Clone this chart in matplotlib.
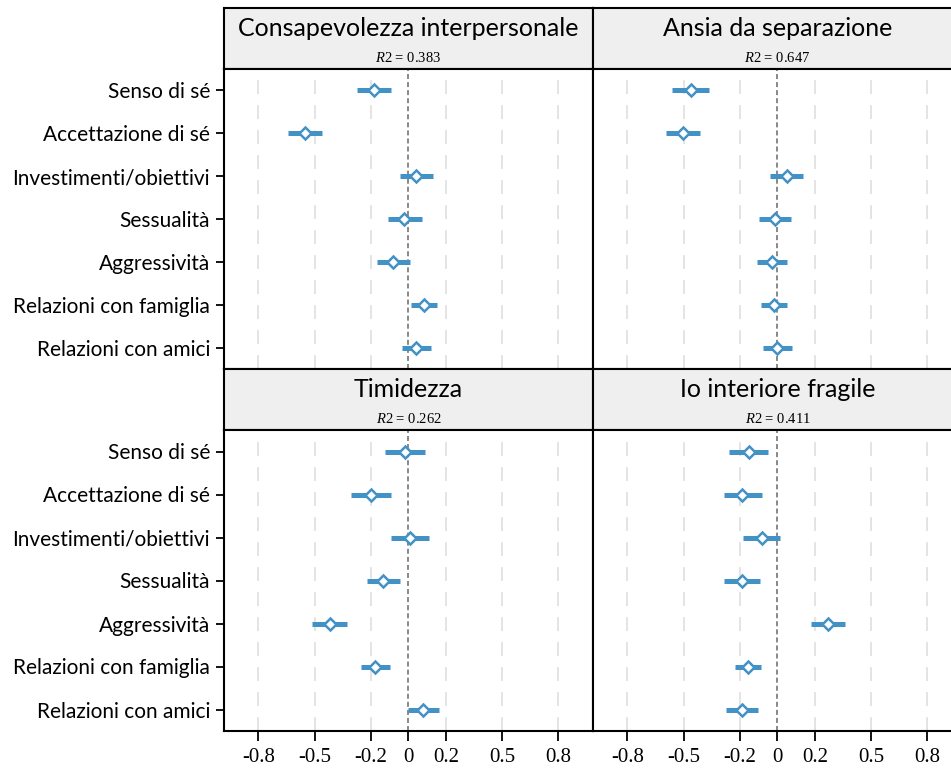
import matplotlib
matplotlib.use("Agg")
import matplotlib.pyplot as plt
import numpy as np

plt.rcParams['lines.scale_dashes'] = False
plt.rcParams['mathtext.fontset'] = 'custom'
plt.rcParams['mathtext.rm'] = 'Liberation Serif'
plt.rcParams['mathtext.it'] = 'Liberation Serif:italic'

# predictors, top to bottom
categories = ["Senso di sé", "Accettazione di sé", "Investimenti/obiettivi",
              "Sessualità", "Aggressività", "Relazioni con famiglia",
              "Relazioni con amici"]

titles = ["Consapevolezza interpersonale", "Ansia da separazione",
          "Timidezza", "Io interiore fragile"]
r2 = [0.383, 0.647, 0.262, 0.411]

# coefficient estimates and interval bounds, one list per outcome
est_consap = [-0.185, -0.551, 0.043, -0.023, -0.082, 0.082, 0.043]
lo_consap = [-0.274, -0.643, -0.044, -0.109, -0.167, 0.013, -0.034]
hi_consap = [-0.091, -0.460, 0.130, 0.073, 0.009, 0.151, 0.123]

est_ansia = [-0.462, -0.505, 0.050, -0.014, -0.030, -0.020, 0.000]
lo_ansia = [-0.562, -0.596, -0.037, -0.100, -0.109, -0.085, -0.077]
hi_ansia = [-0.363, -0.414, 0.137, 0.075, 0.050, 0.050, 0.076]

est_timid = [-0.016, -0.201, 0.007, -0.135, -0.418, -0.178, 0.078]
lo_timid = [-0.123, -0.306, -0.091, -0.220, -0.514, -0.250, -0.002]
hi_timid = [0.089, -0.094, 0.110, -0.044, -0.326, -0.098, 0.164]

est_fragile = [-0.151, -0.187, -0.084, -0.190, 0.270, -0.155, -0.187]
lo_fragile = [-0.258, -0.287, -0.185, -0.283, 0.181, -0.228, -0.272]
hi_fragile = [-0.048, -0.084, 0.012, -0.095, 0.363, -0.085, -0.103]

xticks = [-0.8, -0.5, -0.2, 0, 0.2, 0.5, 0.8]
xticklabels = ["-0.8", "-0.5", "-0.2", "0", "0.2", "0.5", "0.8"]

panels = [(est_consap, lo_consap, hi_consap),
          (est_ansia, lo_ansia, hi_ansia),
          (est_timid, lo_timid, hi_timid),
          (est_fragile, lo_fragile, hi_fragile)]

blue = '#4292c6'
W, H = 951, 769
fig = plt.figure(figsize=(W / 100, H / 100), dpi=100)

def frac(x0, y0, x1, y1):
    # pixel box -> figure fraction rect
    return [x0 / W, 1 - y1 / H, (x1 - x0) / W, (y1 - y0) / H]

col_x = [(224, 593), (593, 962)]
row_y = [(8, 69, 369), (369, 430, 731)]

ypos = np.arange(len(categories), 0, -1)

for i, (est, lo, hi) in enumerate(panels):
    r, c = divmod(i, 2)
    x0, x1 = col_x[c]
    s0, p0, p1 = row_y[r]

    # strip header
    sax = fig.add_axes(frac(x0, s0, x1, p0))
    sax.set_facecolor('#efefef')
    sax.set_xticks([])
    sax.set_yticks([])
    for sp in sax.spines.values():
        sp.set_linewidth(1.5)
    sax.text(0.5, 0.66, titles[i], ha='center', va='center',
             fontsize=18, family='Lato', transform=sax.transAxes)
    sax.text(0.5, 0.18, r"$R$2 = %.3f" % r2[i], ha='center', va='center',
             fontsize=10.5, family='Liberation Serif', transform=sax.transAxes)

    ax = fig.add_axes(frac(x0, p0, x1, p1))
    ax.set_xlim(-0.983, 0.985)
    ax.set_ylim(0.5, len(categories) + 0.5)
    for g in xticks:
        if g == 0:
            continue
        ax.axvline(g, color='#e4e4e4', lw=1.4, dashes=(10, 8), zorder=0)
    ax.axvline(0, color='#888888', lw=1.4, dashes=(3.6, 2.2), zorder=1)

    ax.hlines(ypos, lo, hi, color=blue, lw=3.6, zorder=2)
    ax.plot(est, ypos, 'D', ms=6.4, mfc='white', mec=blue, mew=1.8,
            ls='none', zorder=3)

    for sp in ax.spines.values():
        sp.set_linewidth(1.5)

    ax.set_xticks(xticks)
    if r == 1:
        ax.set_xticklabels(xticklabels, family='Liberation Serif', fontsize=15)
        ax.tick_params(axis='x', length=7, width=1.3, pad=5)
    else:
        ax.tick_params(axis='x', length=0, labelbottom=False)

    ax.set_yticks(ypos)
    if c == 0:
        ax.set_yticklabels(categories, family='Lato', fontsize=15)
        ax.tick_params(axis='y', length=6, width=1.3, pad=4)
    else:
        ax.tick_params(axis='y', length=0, labelleft=False)

fig.savefig('out.png', dpi=100)
